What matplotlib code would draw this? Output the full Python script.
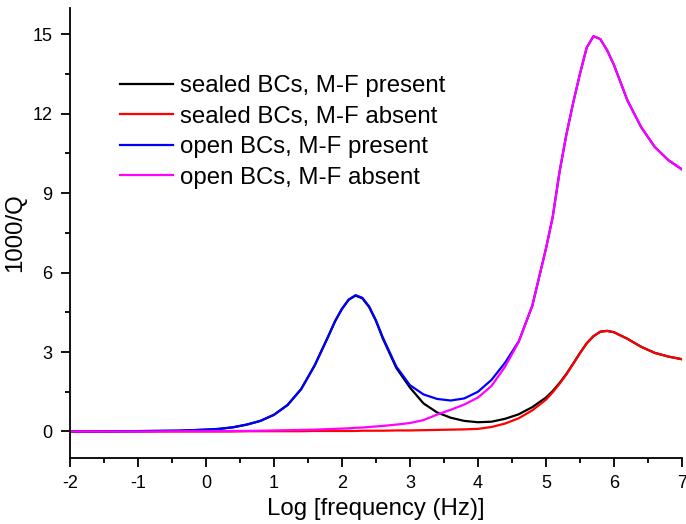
# grafico 1000/Q in funzione del log della frequenza, quattro casi di condizioni al contorno
import matplotlib.pyplot as plt
from matplotlib.ticker import MultipleLocator

plt.rcParams['font.family'] = ['Liberation Sans', 'DejaVu Sans']
plt.rcParams['axes.unicode_minus'] = False  # il riferimento usa il trattino semplice

# griglia in log(frequenza), più fitta vicino ai picchi
log_freq = [-2.0, -1.6, -1.2, -0.8, -0.4,
            0.0, 0.2, 0.4, 0.6, 0.8, 1.0, 1.2, 1.4, 1.6, 1.8,
            1.9, 2.0, 2.1, 2.2, 2.3, 2.4, 2.5, 2.6,
            2.8, 3.0, 3.2, 3.4, 3.6, 3.8, 4.0, 4.2, 4.4, 4.6, 4.8, 5.0,
            5.1, 5.2, 5.3, 5.4, 5.5, 5.6, 5.7, 5.8, 5.9, 6.0,
            6.2, 6.4, 6.6, 6.8, 7.0]

sealed_present = [0.00, 0.00, 0.01, 0.02, 0.03,
                  0.07, 0.10, 0.16, 0.26, 0.40, 0.63, 1.00, 1.60, 2.50, 3.60,
                  4.17, 4.63, 4.98, 5.13, 5.03, 4.70, 4.18, 3.52,
                  2.40, 1.66, 1.06, 0.72, 0.52, 0.40, 0.35, 0.37, 0.48, 0.65, 0.92, 1.28,
                  1.53, 1.83, 2.17, 2.56, 2.96, 3.33, 3.60, 3.77, 3.80, 3.75,
                  3.50, 3.20, 2.97, 2.83, 2.73]

sealed_absent = [0.00, 0.00, 0.00, 0.00, 0.00,
                 0.00, 0.00, 0.00, 0.01, 0.01, 0.01, 0.01, 0.01, 0.02, 0.02,
                 0.02, 0.02, 0.02, 0.02, 0.03, 0.03, 0.03, 0.03,
                 0.04, 0.04, 0.05, 0.06, 0.07, 0.08, 0.10, 0.17, 0.30, 0.50, 0.80, 1.20,
                 1.48, 1.80, 2.15, 2.55, 2.95, 3.33, 3.60, 3.77, 3.80, 3.75,
                 3.50, 3.20, 2.97, 2.83, 2.73]

open_present = [0.00, 0.00, 0.01, 0.02, 0.03,
                0.07, 0.10, 0.16, 0.26, 0.40, 0.63, 1.00, 1.60, 2.50, 3.60,
                4.17, 4.63, 4.98, 5.15, 5.05, 4.72, 4.20, 3.56,
                2.45, 1.75, 1.40, 1.23, 1.17, 1.25, 1.50, 1.95, 2.60, 3.40, 4.75, 6.90,
                8.10, 9.80, 11.20, 12.40, 13.50, 14.50, 14.93, 14.82, 14.40, 13.85,
                12.50, 11.50, 10.75, 10.25, 9.90]

open_absent = [0.00, 0.00, 0.00, 0.00, 0.01,
               0.01, 0.01, 0.02, 0.02, 0.03, 0.04, 0.05, 0.06, 0.07, 0.09,
               0.10, 0.11, 0.12, 0.14, 0.15, 0.17, 0.19, 0.21,
               0.26, 0.32, 0.43, 0.64, 0.82, 1.02, 1.28, 1.72, 2.45, 3.38, 4.75, 6.90,
               8.10, 9.80, 11.20, 12.40, 13.50, 14.50, 14.93, 14.82, 14.40, 13.85,
               12.50, 11.50, 10.75, 10.25, 9.90]

serie = [
    (sealed_present, "black", "sealed BCs, M-F present"),
    (sealed_absent, "#ff0000", "sealed BCs, M-F absent"),
    (open_present, "#0000ff", "open BCs, M-F present"),
    (open_absent, "#ff00ff", "open BCs, M-F absent"),
]

fig = plt.figure(figsize=(6.86, 5.24), dpi=100)
ax = fig.add_axes([0.102, 0.126, 0.892, 0.859])

for valori, colore, nome in serie:
    ax.plot(log_freq, valori, color=colore, lw=1.6, label=nome)

ax.set_xlim(-2, 7)
ax.set_ylim(-1, 16)
ax.xaxis.set_major_locator(MultipleLocator(1))
ax.xaxis.set_minor_locator(MultipleLocator(0.5))
ax.yaxis.set_major_locator(MultipleLocator(3))
ax.yaxis.set_minor_locator(MultipleLocator(1.5))

# solo assi sinistro e inferiore, tacche verso l'esterno
ax.spines["top"].set_visible(False)
ax.spines["right"].set_visible(False)
ax.spines["left"].set_linewidth(1.3)
ax.spines["bottom"].set_linewidth(1.3)
ax.tick_params(which="major", direction="out", length=6.5, width=1.3,
               labelsize=13, pad=6)
ax.tick_params(which="minor", direction="out", length=3.5, width=1.3)

ax.set_xlabel("Log [frequency (Hz)]", fontsize=17.3, labelpad=4)
ax.set_ylabel("1000/Q", fontsize=17.3, labelpad=5)

ax.legend(loc="upper left", bbox_to_anchor=(0.082, 0.850), frameon=False,
          borderpad=0, borderaxespad=0,
          fontsize=17.3, handlelength=2.2, handletextpad=0.3, labelspacing=0.35)

fig.savefig("out.png", dpi=100)
